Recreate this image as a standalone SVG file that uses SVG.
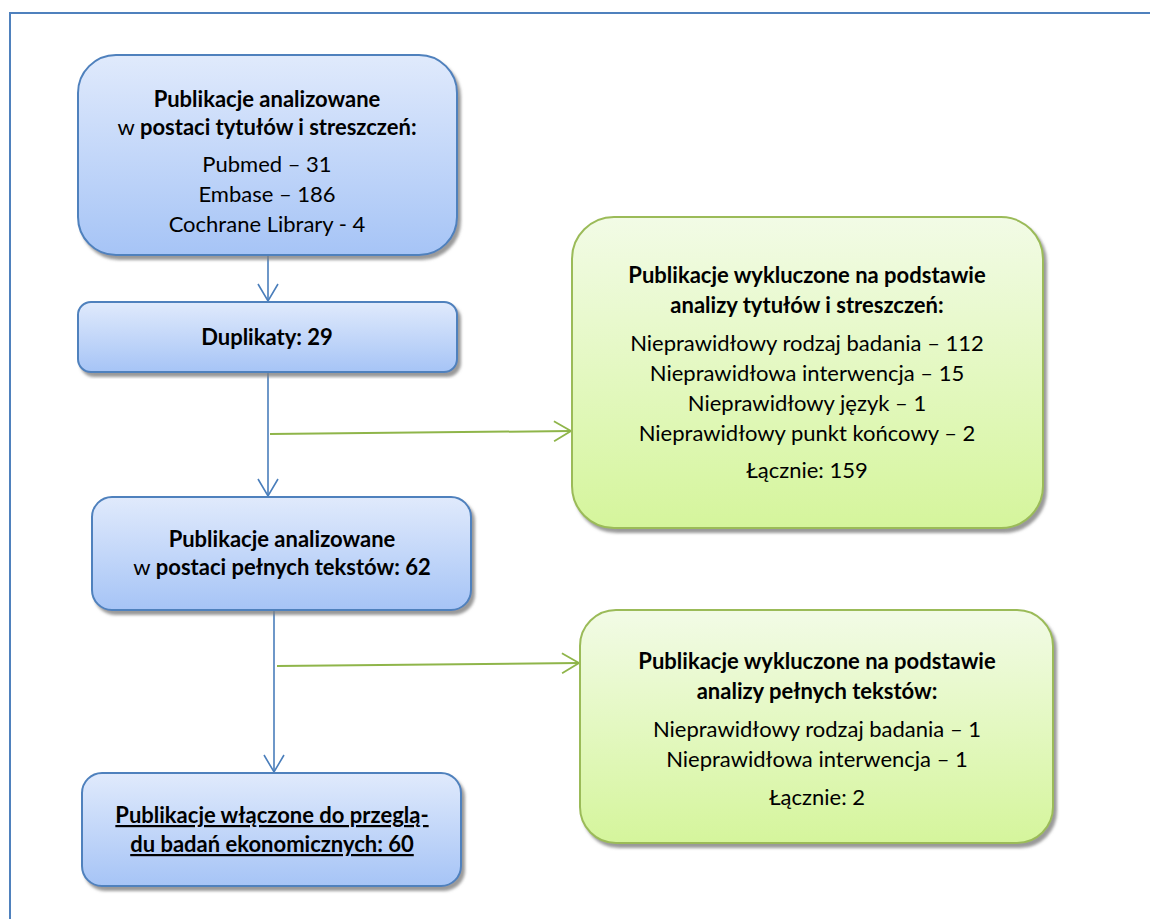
<svg xmlns="http://www.w3.org/2000/svg" width="1150" height="919" viewBox="0 0 1150 919">
<style>
text{font-family:Lato,"Liberation Sans",sans-serif;font-size:22px;fill:#000;text-anchor:middle}
.b{font-weight:bold}
.blue{stroke:#4f81bd;stroke-width:2;fill:url(#gb)}
.green{stroke:#9bbb59;stroke-width:2;fill:url(#gg)}
.cb{stroke:#4a7ebb;stroke-width:1.6;fill:none}
.cg{stroke:#8fb54a;stroke-width:2;fill:none}
</style>
<defs>
<linearGradient id="gb" x1="0" y1="0" x2="0" y2="1"><stop offset="0" stop-color="#e0eafc"/><stop offset="1" stop-color="#a6c4f6"/></linearGradient>
<linearGradient id="gg" x1="0" y1="0" x2="0" y2="1"><stop offset="0" stop-color="#f2fbe6"/><stop offset="1" stop-color="#d5f59c"/></linearGradient>
<filter id="sh" x="-5%" y="-5%" width="115%" height="115%"><feDropShadow dx="3" dy="4" stdDeviation="1.5" flood-color="#808080" flood-opacity="0.8"/></filter>
<marker id="ab" markerWidth="20" markerHeight="22" refX="18" refY="11" orient="auto" markerUnits="userSpaceOnUse"><path d="M1,1 L18,11 L1,21" fill="none" stroke="#4a7ebb" stroke-width="1.6"/></marker>
<marker id="ag" markerWidth="20" markerHeight="22" refX="18" refY="11" orient="auto" markerUnits="userSpaceOnUse"><path d="M1,1 L18,11 L1,21" fill="none" stroke="#8fb54a" stroke-width="1.8"/></marker>
</defs>
<rect x="10" y="13" width="1160" height="930" fill="none" stroke="#4f81bd" stroke-width="2"/>
<g id="connectors">
<line class="cb" x1="268" y1="256" x2="268" y2="301" marker-end="url(#ab)"/>
<line class="cb" x1="268" y1="373" x2="268" y2="496" marker-end="url(#ab)"/>
<line class="cg" x1="270" y1="434" x2="571" y2="431" marker-end="url(#ag)"/>
<line class="cb" x1="274" y1="611" x2="274" y2="772" marker-end="url(#ab)"/>
<line class="cg" x1="277" y1="666" x2="579" y2="663" marker-end="url(#ag)"/>
</g>
<g id="n1">
<rect class="blue" filter="url(#sh)" x="78" y="55" width="379" height="200" rx="38"/>
<text class="b" x="267" y="107">Publikacje analizowane</text>
<text x="267" y="135">w <tspan class="b">postaci tytułów i streszczeń:</tspan></text>
<text x="267" y="172">Pubmed – 31</text>
<text x="267" y="202">Embase – 186</text>
<text x="267" y="232">Cochrane Library - 4</text>
</g>
<g id="n2">
<rect class="blue" filter="url(#sh)" x="78" y="302" width="379" height="70" rx="13"/>
<text class="b" x="267" y="345">Duplikaty: 29</text>
</g>
<g id="n3">
<rect class="blue" filter="url(#sh)" x="92" y="497" width="379" height="113" rx="20"/>
<text class="b" x="282" y="547">Publikacje analizowane</text>
<text x="282" y="575">w <tspan class="b">postaci pełnych tekstów: 62</tspan></text>
</g>
<g id="n4">
<rect class="blue" filter="url(#sh)" x="82" y="773" width="379" height="113" rx="20"/>
<text class="b" x="272" y="823" text-decoration="underline">Publikacje włączone do przeglą-</text>
<text class="b" x="272" y="852" text-decoration="underline">du badań ekonomicznych: 60</text>
</g>
<g id="n5">
<rect class="green" filter="url(#sh)" x="572" y="217" width="471" height="311" rx="42"/>
<text class="b" x="807" y="283">Publikacje wykluczone na podstawie</text>
<text class="b" x="807" y="313">analizy tytułów i streszczeń:</text>
<text x="807" y="351">Nieprawidłowy rodzaj badania – 112</text>
<text x="807" y="381">Nieprawidłowa interwencja – 15</text>
<text x="807" y="411">Nieprawidłowy język – 1</text>
<text x="807" y="441">Nieprawidłowy punkt końcowy – 2</text>
<text x="807" y="478">Łącznie: 159</text>
</g>
<g id="n6">
<rect class="green" filter="url(#sh)" x="580" y="610" width="473" height="233" rx="36"/>
<text class="b" x="817" y="669">Publikacje wykluczone na podstawie</text>
<text class="b" x="817" y="699">analizy pełnych tekstów:</text>
<text x="817" y="737">Nieprawidłowy rodzaj badania – 1</text>
<text x="817" y="767">Nieprawidłowa interwencja – 1</text>
<text x="817" y="805">Łącznie: 2</text>
</g>
</svg>
